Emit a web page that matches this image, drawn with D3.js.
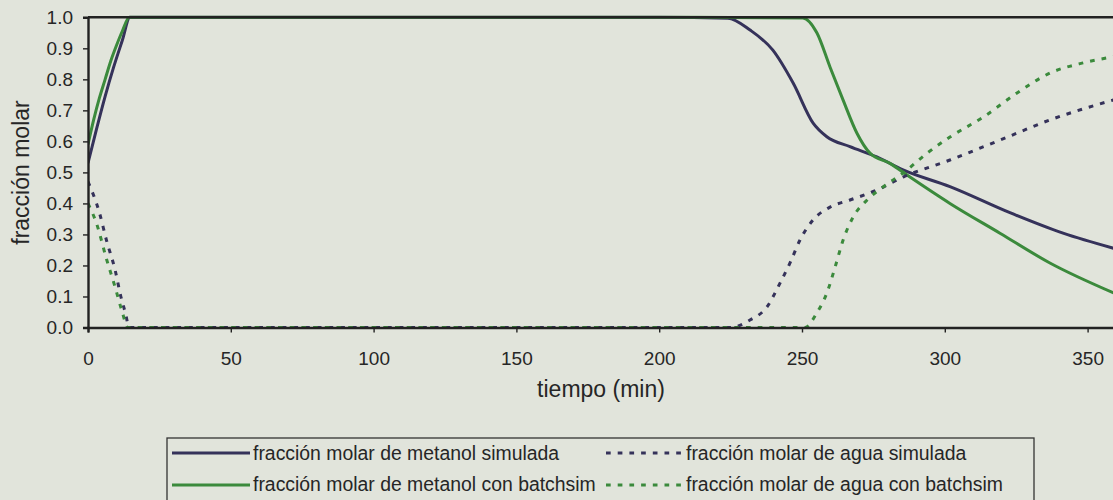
<!DOCTYPE html>
<html>
<head>
<meta charset="utf-8">
<script src="https://cdn.jsdelivr.net/npm/d3@7"></script>
<style>
  html, body { margin: 0; padding: 0; background: #e1e4db; }
  svg { display: block; }
  text { font-family: Arial, "Liberation Sans", sans-serif; fill: #262626; }
</style>
</head>
<body>
<svg id="chart" width="1113" height="500"></svg>
<script>
// Time (min) and molar fraction for each series
const tMetSim = [0, 3, 6, 9, 12, 14.7, 50, 100, 150, 200, 224, 231.8, 239.8, 246.9, 253.9, 258.7, 266.8, 276.2, 285.4, 301.8, 322.8, 341.4, 360];
const metSim  = [0.53, 0.64, 0.745, 0.84, 0.925, 1, 1, 1, 1, 1, 0.997, 0.959, 0.894, 0.788, 0.659, 0.615, 0.583, 0.55, 0.508, 0.454, 0.37, 0.304, 0.253];

const tMetBatch = [0, 2, 4, 6, 8, 10, 12, 14.5, 50, 100, 150, 200, 250.3, 255.2, 259.8, 264.4, 269.2, 273.8, 280.8, 287.8, 301.8, 319.3, 336.8, 360];
const metBatch  = [0.59, 0.67, 0.74, 0.80, 0.86, 0.91, 0.955, 1, 1, 1, 1, 1, 0.998, 0.95, 0.84, 0.733, 0.627, 0.562, 0.529, 0.485, 0.40, 0.304, 0.208, 0.108];

const tAguaSim = [0, 4, 6.5, 9.5, 11.5, 13, 14.5, 50, 100, 150, 200, 224.8, 231.8, 237.7, 242.3, 245.8, 249.3, 253.9, 259.8, 266.8, 276.2, 285.4, 301.8, 319.3, 336.8, 360];
const aguaSim  = [0.47, 0.37, 0.28, 0.185, 0.1, 0.05, 0, 0, 0, 0, 0, 0, 0.024, 0.066, 0.143, 0.208, 0.282, 0.347, 0.388, 0.411, 0.443, 0.485, 0.54, 0.604, 0.669, 0.736];

const tAguaBatch = [0, 3, 6.5, 9.5, 11.8, 14, 50, 100, 150, 200, 251, 255.2, 258.7, 261.6, 264.4, 267.9, 272.8, 278.4, 285.4, 293.8, 301.8, 313.4, 325.3, 336.8, 348.4, 360];
const aguaBatch  = [0.40, 0.335, 0.22, 0.13, 0.056, 0, 0, 0, 0, 0, 0, 0.047, 0.111, 0.195, 0.282, 0.356, 0.411, 0.453, 0.498, 0.562, 0.614, 0.678, 0.756, 0.82, 0.853, 0.874];

const xTicks = [0, 50, 100, 150, 200, 250, 300, 350];
const yTicks = [0, 0.1, 0.2, 0.3, 0.4, 0.5, 0.6, 0.7, 0.8, 0.9, 1.0];

const seriesNames = [
  "fracción molar de metanol simulada",
  "fracción molar de metanol con batchsim",
  "fracción molar de agua simulada",
  "fracción molar de agua con batchsim"
];

const NAVY = "#35325a";
const GREEN = "#3b8a3c";
const AXIS = "#222222";

const series = [
  { name: seriesNames[0], t: tMetSim,    v: metSim,    color: NAVY,  dashed: false },
  { name: seriesNames[1], t: tMetBatch,  v: metBatch,  color: GREEN, dashed: false },
  { name: seriesNames[2], t: tAguaSim,   v: aguaSim,   color: NAVY,  dashed: true  },
  { name: seriesNames[3], t: tAguaBatch, v: aguaBatch, color: GREEN, dashed: true  }
];

const svg = d3.select("#chart");
const plotLeft = 88, plotTop = 17.3, plotBottom = 327.5;
const x = d3.scaleLinear().domain([0, 400]).range([plotLeft, plotLeft + 400 * 2.856]);
const y = d3.scaleLinear().domain([0, 1]).range([plotBottom, plotTop]);

svg.append("defs").append("clipPath").attr("id", "plotClip")
  .append("rect").attr("x", plotLeft).attr("y", plotTop - 2)
  .attr("width", 1113 - plotLeft).attr("height", plotBottom - plotTop + 4);

const line = d3.line()
  .x(d => x(d[0]))
  .y(d => y(d[1]))
  .curve(d3.curveMonotoneX);

const plot = svg.append("g").attr("clip-path", "url(#plotClip)");
series.forEach(s => {
  plot.append("path")
    .datum(s.t.map((t, i) => [t, s.v[i]]))
    .attr("d", line)
    .attr("fill", "none")
    .attr("stroke", s.color)
    .attr("stroke-width", 3)
    .attr("stroke-dasharray", s.dashed ? "4.7,7" : null)
    .attr("stroke-linejoin", "round");
});

// Top frame of the plot area
svg.append("line")
  .attr("x1", plotLeft).attr("x2", 1113)
  .attr("y1", plotTop).attr("y2", plotTop)
  .attr("stroke", AXIS).attr("stroke-width", 2.4);

// Y axis
const yAxis = svg.append("g")
  .attr("transform", `translate(${plotLeft},0)`)
  .call(d3.axisLeft(y).tickValues(yTicks).tickFormat(d3.format(".1f")).tickSize(5).tickPadding(10));
yAxis.select(".domain").attr("stroke", AXIS).attr("stroke-width", 2.4);
yAxis.selectAll(".tick line").attr("stroke", AXIS).attr("stroke-width", 1.4);
yAxis.selectAll(".tick text")
  .attr("font-size", 19).attr("fill", "#262626")
  .attr("font-family", "Arial, 'Liberation Sans', sans-serif");

// X axis
const xAxis = svg.append("g")
  .attr("transform", `translate(0,${plotBottom})`)
  .call(d3.axisBottom(x).tickValues(xTicks).tickFormat(d3.format("d")).tickSize(5).tickPadding(19));
xAxis.select(".domain").attr("stroke", AXIS).attr("stroke-width", 2.4);
xAxis.selectAll(".tick line").attr("stroke", AXIS).attr("stroke-width", 1.4);
xAxis.selectAll(".tick text")
  .attr("font-size", 19).attr("fill", "#262626")
  .attr("font-family", "Arial, 'Liberation Sans', sans-serif");

// Axis titles
svg.append("text")
  .attr("x", 601).attr("y", 397)
  .attr("text-anchor", "middle")
  .attr("font-size", 23)
  .text("tiempo (min)");

svg.append("text")
  .attr("transform", "translate(29,172.5) rotate(-90)")
  .attr("text-anchor", "middle")
  .attr("font-size", 23)
  .text("fracción molar");

// Legend
const legend = svg.append("g");
legend.append("rect")
  .attr("x", 167).attr("y", 438)
  .attr("width", 867).attr("height", 90)
  .attr("fill", "none").attr("stroke", "#333").attr("stroke-width", 1.3);

const legendPos = [
  { sx1: 172, sx2: 250, tx: 253, ly: 453, ty: 460 },
  { sx1: 172, sx2: 250, tx: 253, ly: 485, ty: 491 },
  { sx1: 606, sx2: 686, tx: 686, ly: 453, ty: 460 },
  { sx1: 606, sx2: 686, tx: 686, ly: 485, ty: 491 }
];
series.forEach((s, i) => {
  const p = legendPos[i];
  legend.append("line")
    .attr("x1", p.sx1).attr("x2", p.sx2)
    .attr("y1", p.ly).attr("y2", p.ly)
    .attr("stroke", s.color).attr("stroke-width", 3)
    .attr("stroke-dasharray", s.dashed ? "4.7,7" : null);
  legend.append("text")
    .attr("x", p.tx).attr("y", p.ty)
    .attr("font-size", 19.4)
    .text(s.name);
});
</script>
</body>
</html>
